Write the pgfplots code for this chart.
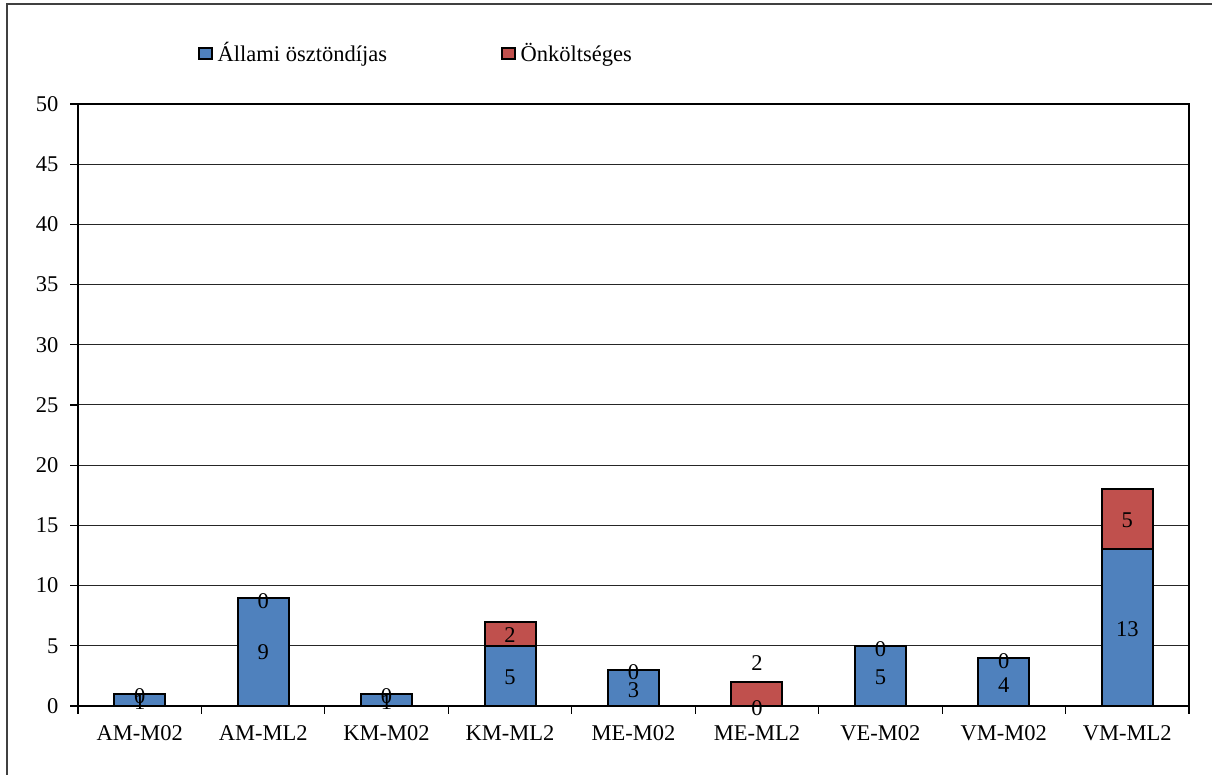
\documentclass[border=0pt]{standalone}
\usepackage{pgfplots}
\pgfplotsset{compat=1.18}
\usepackage{fontspec}
\setmainfont{Liberation Serif}
\definecolor{barblue}{HTML}{4F81BD}
\definecolor{barred}{HTML}{C0504D}
\begin{document}
\fontsize{22.5}{27}\selectfont
\begin{tikzpicture}[x=1pt,y=1pt]
\useasboundingbox (0,0) rectangle (1212,775);
\draw[line width=1.3pt, black!75] (7,-10) -- (7,771) -- (1230,771);
\pgfplotsset{
  base/.style={
    at={(78pt,69pt)}, anchor=south west,
    scale only axis, width=1111pt, height=602pt,
    xmin=-0.5, xmax=8.5, ymin=0, ymax=50,
  }
}
\begin{axis}[base,
  ybar stacked, bar width=51pt,
  axis lines=box,
  axis line style={black, line width=1.2pt},
  ymajorgrids, grid style={black!85, line width=1pt},
  ytick={0,5,...,50},
  xtick={0,...,8},
  xticklabels={AM-M02,AM-ML2,KM-M02,KM-ML2,ME-M02,ME-ML2,VE-M02,VM-M02,VM-ML2},
  minor xtick={-0.5,0.5,...,8.5},
  major x tick style={draw=none},
  minor x tick style={black, line width=1.2pt},
  y tick style={black, line width=1.2pt},
  major tick length=8pt, minor tick length=8pt,
  tick align=outside, tick pos=left,
  xtick pos=bottom, ytick pos=left,
  /pgf/number format/assume math mode=true,
  yticklabel style={xshift=-4pt},
  xticklabel style={yshift=-4pt},
  legend style={draw=none, fill=none, at={(0.108,1.083)}, anchor=west,
    legend columns=2,
    /tikz/every odd column/.append style={column sep=3pt},
    /tikz/every even column/.append style={column sep=112pt},
    cells={anchor=west}, inner sep=0pt},
  legend image code/.code={\draw[#1, line width=1.5pt] (0pt,-5pt) rectangle (13pt,6pt);},
]
\addplot[fill=barblue, draw=black, line width=2pt] coordinates {
 (0,1) (1,9) (2,1) (3,5) (4,3) (5,0) (6,5) (7,4) (8,13)};
\addlegendentry{Állami ösztöndíjas}
\addplot[fill=barred, draw=black, line width=2pt] coordinates {
 (0,0) (1,0) (2,0) (3,2) (4,0) (5,2) (6,0) (7,0) (8,5)};
\addlegendentry{Önköltséges}
\end{axis}
\begin{axis}[base, hide axis, clip=false]
\addplot[draw=none, mark=none, nodes near coords, point meta=explicit symbolic,
  every node near coord/.append style={anchor=center, inner sep=0pt}]
 table[meta=lab] {
x y lab
0 0.35 1
0 0.85 0
1 4.5 9
1 8.7 0
2 0.35 1
2 0.85 0
3 2.4 5
3 5.9 2
4 1.3 3
4 2.85 0
5 -0.2 0
5 3.6 2
6 2.4 5
6 4.7 0
7 1.7 4
7 3.75 0
8 6.4 13
8 15.4 5
};
\end{axis}
\end{tikzpicture}
\end{document}
